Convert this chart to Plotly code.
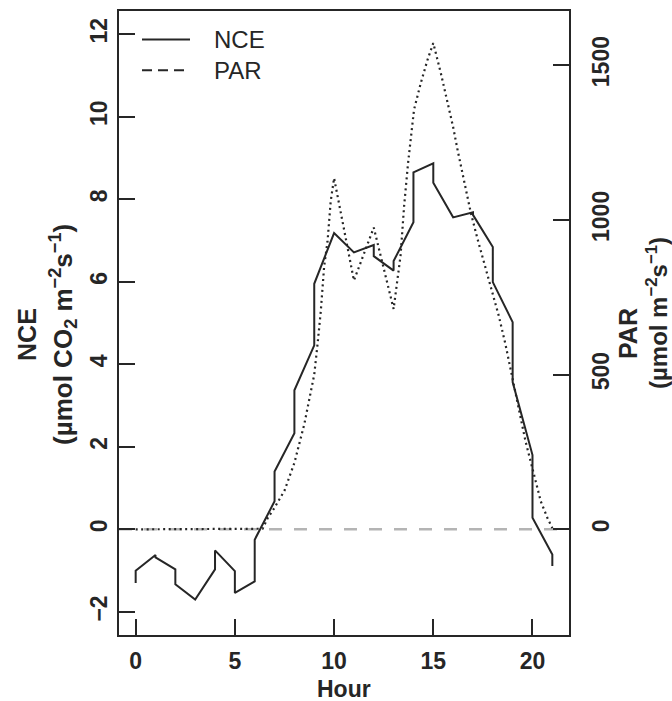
import plotly.graph_objects as go

# Net carbon exchange: two readings are logged against each whole hour
nce_hour = [0, 0, 1, 1, 2, 2, 3, 3, 4, 4, 5, 5, 6, 6, 7, 7, 8, 8, 9, 9, 10, 10,
            11, 11, 12, 12, 13, 13, 14, 14, 15, 15, 16, 16, 17, 17, 18, 18,
            19, 19, 20, 20, 21, 21]
nce_value = [-1.30, -1.00, -0.62, -0.68, -0.97, -1.33, -1.70, -1.70, -0.97, -0.51,
             -1.01, -1.54, -1.26, -0.25, 0.68, 1.40, 2.33, 3.37, 4.46, 5.95,
             7.18, 7.18, 6.71, 6.71, 6.89, 6.62, 6.27, 6.50, 7.44, 8.65,
             8.87, 8.40, 7.56, 7.56, 7.68, 7.62, 6.84, 5.99, 5.02, 3.57,
             1.80, 0.28, -0.61, -0.89]

# Photosynthetically active radiation
par_hour = [0, 6.0, 6.4, 6.65, 7.0, 7.5, 8.0, 8.5, 9.0, 9.17, 9.33, 9.5, 9.67, 9.83,
            10.0, 11.0, 12.0, 13.0, 13.35, 13.53, 13.73, 14.03, 14.37, 14.71,
            15.0, 15.38, 15.8, 16.0, 16.22, 16.56, 16.89, 17.23, 17.65, 18.0,
            18.3, 18.63, 19.14, 19.65, 20.17, 20.42, 20.76, 21.0]
par_value = [0, 0, 2, 36, 70, 125, 215, 340, 500, 600, 705, 850, 930, 1060,
             1135, 804, 975, 712, 884, 1045, 1184, 1356, 1442, 1517,
             1571, 1474, 1356, 1300, 1227, 1120, 1023, 938, 841, 755,
             690, 600, 436, 284, 153, 90, 36, 4]

hour_ticks = [0, 5, 10, 15, 20]
nce_ticks = [-2, 0, 2, 4, 6, 8, 10, 12]
par_ticks = [0, 500, 1000, 1500]
nce_limits = (-2, 12)
par_limits = (-266.67, 1600)
hour_limits = (0, 21)
reference_level = 0


def padded(lo, hi, frac=0.04):
    span = hi - lo
    return [lo - frac * span, hi + frac * span]


INK = "#262626"
FONT = "Liberation Sans, Arial, Helvetica, sans-serif"

# plot-area geometry in pixels, used to place the hand-built legend and titles
W, H = 672, 701
L, R, T, B = 119, 569, 9, 635


def px_x(x):
    return (x - L) / (R - L)


def px_y(y):
    return (B - y) / (B - T)


fig = go.Figure()

fig.add_trace(go.Scatter(
    x=par_hour, y=par_value, mode="lines", yaxis="y2",
    line=dict(color=INK, width=2.2, dash="2px,3.5px"),
    showlegend=False, hoverinfo="skip"))

fig.add_trace(go.Scatter(
    x=nce_hour, y=nce_value, mode="lines",
    line=dict(color=INK, width=2),
    showlegend=False, hoverinfo="skip"))

shapes = [
    # horizontal reference at zero flux
    dict(type="line", xref="paper", x0=0, x1=1, yref="y",
         y0=reference_level, y1=reference_level, layer="below",
         line=dict(color="#b4b4b4", width=2.5, dash="13px,12px")),
    # legend samples
    dict(type="line", xref="paper", yref="paper",
         x0=px_x(142), x1=px_x(190), y0=px_y(37.5), y1=px_y(37.5),
         line=dict(color=INK, width=2)),
    dict(type="line", xref="paper", yref="paper",
         x0=px_x(142), x1=px_x(188), y0=px_y(68.5), y1=px_y(68.5),
         line=dict(color=INK, width=2, dash="10px,6px")),
]

title_font = dict(family=FONT, size=25, color=INK, weight="bold")

annotations = [
    dict(text="NCE", xref="paper", yref="paper", x=px_x(212), y=px_y(38),
         xanchor="left", yanchor="middle", showarrow=False,
         font=dict(family=FONT, size=24, color=INK)),
    dict(text="PAR", xref="paper", yref="paper", x=px_x(212), y=px_y(69),
         xanchor="left", yanchor="middle", showarrow=False,
         font=dict(family=FONT, size=24, color=INK)),
    dict(text="Hour", xref="paper", yref="paper", x=0.5, y=px_y(675),
         xanchor="center", yanchor="top", showarrow=False, borderpad=0,
         font=dict(family=FONT, size=23, color=INK, weight="bold")),
    dict(text="NCE", xref="paper", yref="paper", x=px_x(27), y=px_y(334),
         xanchor="center", yanchor="middle", showarrow=False, textangle=-90,
         font=title_font),
    dict(text="(µmol CO<sub>2</sub> m<sup>−2</sup>s<sup>−1</sup>)",
         xref="paper", yref="paper", x=px_x(63), y=px_y(334),
         xanchor="center", yanchor="middle", showarrow=False, textangle=-90,
         font=dict(family=FONT, size=26, color=INK, weight="bold")),
    dict(text="PAR", xref="paper", yref="paper", x=px_x(628), y=px_y(333),
         xanchor="center", yanchor="middle", showarrow=False, textangle=-90,
         font=title_font),
    dict(text="(µmol m<sup>−2</sup>s<sup>−1</sup>)",
         xref="paper", yref="paper", x=px_x(657), y=px_y(312),
         xanchor="center", yanchor="middle", showarrow=False, textangle=-90,
         font=dict(family=FONT, size=24, color=INK, weight="bold")),
]

tick_font = dict(family=FONT, size=23, color=INK, weight="bold")

fig.update_layout(
    width=W, height=H,
    margin=dict(l=L, r=W - R, t=T, b=H - B, pad=0),
    paper_bgcolor="white", plot_bgcolor="white",
    showlegend=False,
    shapes=shapes, annotations=annotations,
    xaxis=dict(range=padded(*hour_limits), tickvals=hour_ticks,
               ticks="inside", ticklen=16, tickwidth=2, tickcolor=INK,
               showline=True, mirror=True, linecolor=INK, linewidth=2,
               showgrid=False, zeroline=False, tickfont=tick_font,
               ticklabelstandoff=4),
    yaxis=dict(range=padded(*nce_limits), tickvals=nce_ticks,
               ticks="inside", ticklen=16, tickwidth=2, tickcolor=INK,
               showline=True, mirror=True, linecolor=INK, linewidth=2,
               showgrid=False, zeroline=False, tickfont=tick_font,
               tickangle=-90, ticklabelstandoff=1),
    yaxis2=dict(range=padded(*par_limits), tickvals=par_ticks,
                overlaying="y", side="right", anchor="x",
                ticks="inside", ticklen=16, tickwidth=2, tickcolor=INK,
                showline=False, showgrid=False, zeroline=False,
                tickfont=tick_font, tickangle=-90, ticklabelstandoff=16),
)

fig.write_html("out.html")
